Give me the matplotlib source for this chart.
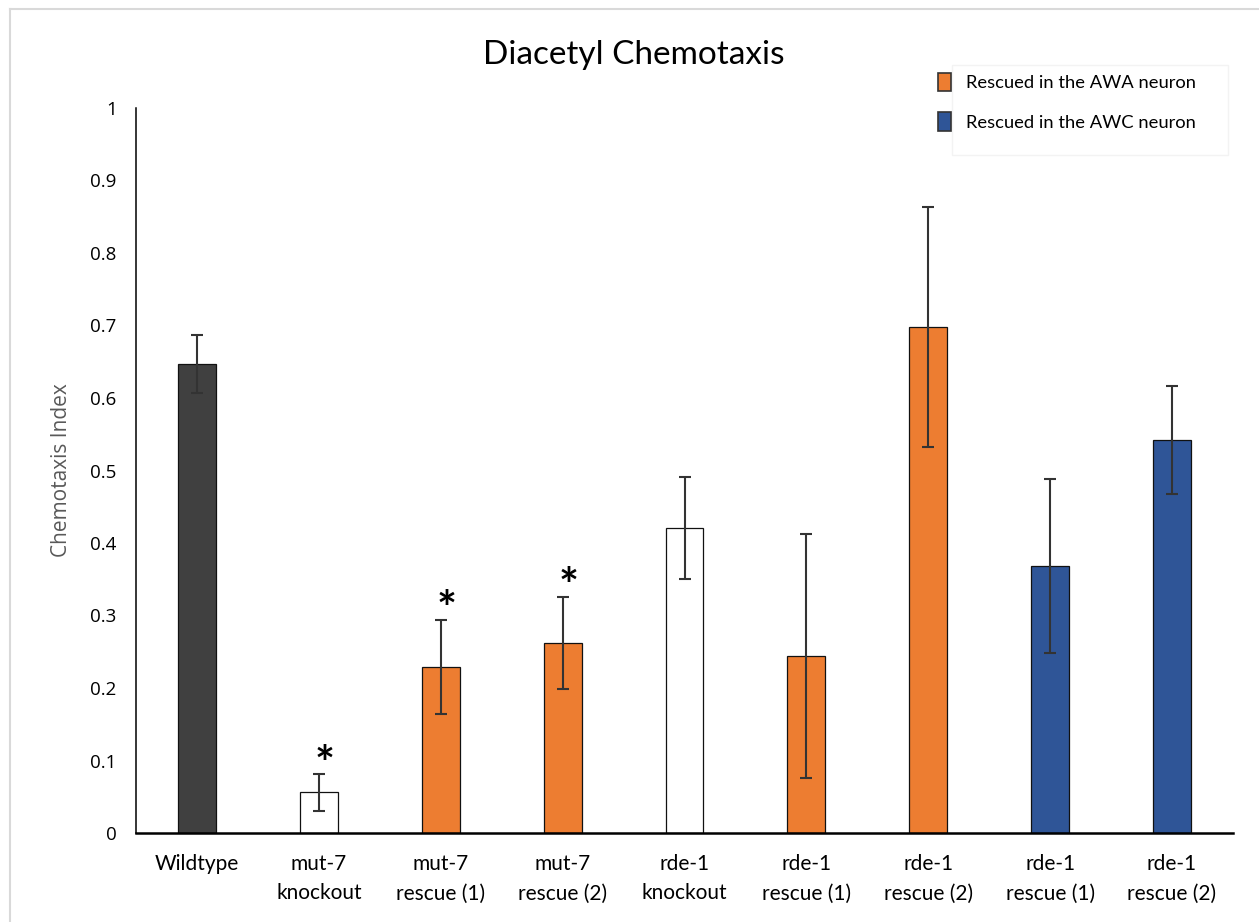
import matplotlib
matplotlib.use("Agg")
import matplotlib.pyplot as plt
from matplotlib.patches import Patch, Rectangle
from matplotlib.lines import Line2D

# ---- data ----
categories = ["Wildtype", "mut-7\nknockout", "mut-7\nrescue (1)", "mut-7\nrescue (2)",
              "rde-1\nknockout", "rde-1\nrescue (1)", "rde-1\nrescue (2)",
              "rde-1\nrescue (1)", "rde-1\nrescue (2)"]
means = [0.647, 0.056, 0.229, 0.262, 0.421, 0.244, 0.698, 0.368, 0.542]
errors = [0.040, 0.025, 0.065, 0.064, 0.070, 0.168, 0.166, 0.120, 0.075]
groups = ["wt", "ko", "awa", "awa", "ko", "awa", "awa", "awc", "awc"]
significant = [False, True, True, True, False, False, False, False, False]
legend_labels = ["Rescued in the AWA neuron", "Rescued in the AWC neuron"]
yticks = [0, 0.1, 0.2, 0.3, 0.4, 0.5, 0.6, 0.7, 0.8, 0.9, 1.0]
ytick_labels = ["0", "0.1", "0.2", "0.3", "0.4", "0.5", "0.6", "0.7", "0.8", "0.9", "1"]

group_colors = {"wt": "#404040", "ko": "#ffffff", "awa": "#ED7D31", "awc": "#2F5597"}
CAL = ["Lato", "DejaVu Sans"]
SEG = ["Open Sans", "DejaVu Sans"]

W, H = 1259, 922
fig = plt.figure(figsize=(W / 100, H / 100), dpi=100)
fig.patch.set_facecolor("white")

ax = fig.add_axes([136 / W, (H - 833) / H, (1233 - 136) / W, (833 - 108) / H])
x = list(range(len(categories)))
colors = [group_colors[g] for g in groups]
ax.bar(x, means, width=0.31, color=colors, edgecolor="#111111", linewidth=0.9, zorder=2)
ax.errorbar(x, means, yerr=errors, fmt="none", ecolor="#333333", elinewidth=1.5,
            capsize=4.4, capthick=1.5, zorder=3)

for xi, m, e, s in zip(x, means, errors, significant):
    if s:
        ax.text(xi + 0.05, m + e + 0.012, "*", ha="center", va="center",
                fontsize=34, fontweight="bold", family=CAL, color="black", zorder=4)

ax.set_xlim(-0.5, len(categories) - 0.5)
ax.set_ylim(0, 1)
ax.set_yticks(yticks)
ax.set_yticklabels(ytick_labels, family=SEG, fontsize=13.5)
ax.set_xticks(x)
ax.set_xticklabels(categories, family=CAL, fontsize=15, linespacing=1.6)
ax.tick_params(axis="both", length=0)
ax.tick_params(axis="y", pad=14)
ax.tick_params(axis="x", pad=15)
for sp in ["top", "right"]:
    ax.spines[sp].set_visible(False)
ax.spines["left"].set_linewidth(1.1)
ax.spines["left"].set_color("black")
ax.spines["bottom"].set_linewidth(1.8)
ax.spines["bottom"].set_color("black")

ax.set_ylabel("Chemotaxis Index", family=SEG, fontsize=15, color="#595959", labelpad=13)

fig.text(634 / W, 1 - 55 / H, "Diacetyl Chemotaxis", ha="center", va="center",
         family=CAL, fontsize=24, color="black")

# legend
fig.patches.append(Rectangle((952 / W, 1 - 155 / H), (1228 - 952) / W, (155 - 65) / H,
                             transform=fig.transFigure, facecolor="white",
                             edgecolor="#f3f3f3", linewidth=1.0, zorder=0))
handles = [Patch(facecolor=group_colors["awa"], edgecolor="#333333", linewidth=1.2),
           Patch(facecolor=group_colors["awc"], edgecolor="#333333", linewidth=1.2)]
leg = fig.legend(handles, legend_labels, loc="upper left",
                 bbox_to_anchor=(938 / W, 1 - 73 / H), frameon=False,
                 prop={"family": CAL, "size": 13.2}, handlelength=0.7,
                 handleheight=1.15, handletextpad=0.85, labelspacing=1.15, borderpad=0,
                 borderaxespad=0)

# outer chart border (left & top visible)
fig.add_artist(Line2D([10 / W, 10 / W], [0, 1 - 9 / H], transform=fig.transFigure,
                      color="#d9d9d9", linewidth=1.5))
fig.add_artist(Line2D([10 / W, 1], [1 - 9 / H, 1 - 9 / H], transform=fig.transFigure,
                      color="#d9d9d9", linewidth=1.5))

fig.savefig("out.png", dpi=100)
